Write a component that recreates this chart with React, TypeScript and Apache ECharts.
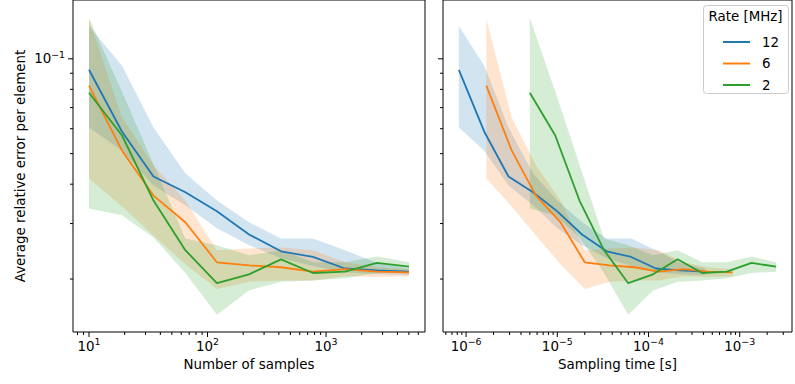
import React, { useEffect, useRef } from "react";
import * as echarts from "echarts";

// ---- data ----
const samples = [10, 19, 35, 65, 120, 224, 417, 776, 1445, 2692, 5012];
const rateNames = ["12", "6", "2"];
const ratesMHz = [12, 6, 2];

const mean12 = [0.0923, 0.0587, 0.0423, 0.0377, 0.0328, 0.0277, 0.0245, 0.0235, 0.0216, 0.0213, 0.0211];
const upper12 = [0.1272, 0.095, 0.0605, 0.0433, 0.0355, 0.0303, 0.0269, 0.0269, 0.0247, 0.0225, 0.0216];
const lower12 = [0.0605, 0.0511, 0.0396, 0.0343, 0.029, 0.0256, 0.0233, 0.022, 0.021, 0.0207, 0.0206];

const mean6 = [0.0822, 0.0511, 0.0368, 0.0303, 0.0226, 0.0221, 0.0218, 0.0211, 0.0215, 0.0211, 0.021];
const upper6 = [0.1338, 0.0651, 0.0459, 0.0355, 0.0247, 0.025, 0.0252, 0.0247, 0.0226, 0.0218, 0.0215];
const lower6 = [0.0417, 0.034, 0.0275, 0.0223, 0.0186, 0.0196, 0.0198, 0.0198, 0.0204, 0.0203, 0.0204];

const mean2 = [0.078, 0.0571, 0.0355, 0.0247, 0.0194, 0.0207, 0.0231, 0.0209, 0.0211, 0.0225, 0.0219];
const upper2 = [0.1348, 0.0786, 0.0462, 0.0269, 0.0256, 0.0238, 0.0247, 0.0226, 0.0226, 0.0236, 0.0226];
const lower2 = [0.0335, 0.0319, 0.0271, 0.0209, 0.0154, 0.0184, 0.0196, 0.0198, 0.0201, 0.0209, 0.0211];

const means = [mean12, mean6, mean2];
const uppers = [upper12, upper6, upper2];
const lowers = [lower12, lower6, lower2];

const FONT = "DejaVu Sans";
const COLORS = ["#1f77b4", "#ff7f0e", "#2ca02c"];
const BAND = ["rgba(31,119,180,0.2)", "rgba(255,127,14,0.2)", "rgba(44,160,44,0.2)"];

const X0_MIN = Math.pow(10, 0.865);
const X0_MAX = Math.pow(10, 3.835);
const X1_MIN = Math.pow(10, -6.253);
const X1_MAX = Math.pow(10, -2.427);
const Y_MIN = Math.pow(10, -1 - 274 / 316);
const Y_MAX = Math.pow(10, -1 + 59 / 316);

function powLabel(v: number) {
  const l = Math.log10(v);
  const r = Math.round(l);
  if (Math.abs(l - r) > 1e-6) return "";
  return `{b|10}{s|${r < 0 ? "\u2212" + -r : r}}`;
}

const richLabel = {
  b: { fontSize: 13.4, fontFamily: FONT, color: "#000", lineHeight: 18 },
  s: { fontSize: 9.4, fontFamily: FONT, color: "#000", verticalAlign: "top", lineHeight: 10 },
};

function logTicks(min: number, max: number) {
  const major: number[] = [];
  const minor: number[] = [];
  for (let e = Math.floor(Math.log10(min)) - 1; e <= Math.ceil(Math.log10(max)); e++) {
    for (let m = 1; m <= 9; m++) {
      const v = m * Math.pow(10, e);
      if (v >= min * 1.0001 && v <= max / 1.0001) (m === 1 ? major : minor).push(v);
    }
  }
  return { major, minor };
}

function tickSeries(g: number, xmin: number, xmax: number) {
  const xt = logTicks(xmin, xmax);
  const yt = logTicks(Y_MIN, Y_MAX);
  return {
    type: "custom",
    xAxisIndex: g,
    yAxisIndex: g,
    silent: true,
    z: 6,
    data: [[xmin, Y_MIN]],
    renderItem: (params: any, api: any) => {
      const children: any[] = [];
      const st = { stroke: "#000", lineWidth: 1 };
      const addX = (v: number, len: number) => {
        const p = api.coord([v, Y_MIN]);
        children.push({ type: "line", shape: { x1: p[0], y1: p[1], x2: p[0], y2: p[1] + len }, style: st });
      };
      const addY = (v: number, len: number) => {
        const p = api.coord([xmin, v]);
        children.push({ type: "line", shape: { x1: p[0], y1: p[1], x2: p[0] - len, y2: p[1] }, style: st });
      };
      xt.major.forEach((v) => addX(v, 5));
      xt.minor.forEach((v) => addX(v, 3));
      yt.major.forEach((v) => addY(v, 5));
      yt.minor.forEach((v) => addY(v, 3));
      return { type: "group", children };
    },
  };
}

function bandSeries(g: number, i: number, xs: number[]) {
  const hi = uppers[i];
  const lo = lowers[i];
  return {
    type: "custom",
    xAxisIndex: g,
    yAxisIndex: g,
    silent: true,
    z: 1,
    data: xs.map((x, k) => [x, means[i][k]]),
    renderItem: (params: any, api: any) => {
      if (params.dataIndex !== 0) return null;
      const pts: number[][] = [];
      for (let k = 0; k < xs.length; k++) pts.push(api.coord([xs[k], hi[k]]));
      for (let k = xs.length - 1; k >= 0; k--) pts.push(api.coord([xs[k], lo[k]]));
      return { type: "polygon", shape: { points: pts }, style: { fill: BAND[i], stroke: "none" } };
    },
  };
}

function lineSeries(g: number, i: number, xs: number[]) {
  return {
    type: "line",
    name: rateNames[i],
    xAxisIndex: g,
    yAxisIndex: g,
    z: 3,
    data: xs.map((x, k) => [x, means[i][k]]),
    showSymbol: false,
    symbol: "none",
    color: COLORS[i],
    lineStyle: { width: 1.8, color: COLORS[i] },
    itemStyle: { color: COLORS[i] },
  };
}

function xAxisCfg(g: number, min: number, max: number, name: string) {
  return {
    type: "log",
    gridIndex: g,
    min,
    max,
    logBase: 10,
    axisLine: { show: false },
    axisTick: { show: false },
    splitLine: { show: false },
    minorTick: { show: false },
    axisLabel: { formatter: powLabel, rich: richLabel, margin: 5, interval: 0, hideOverlap: false },
    name,
    nameLocation: "middle",
    nameGap: 26,
    nameTextStyle: { fontSize: 13.4, fontFamily: FONT, color: "#000" },
  };
}

function yAxisCfg(g: number, showLabel: boolean) {
  return {
    type: "log",
    gridIndex: g,
    min: Y_MIN,
    max: Y_MAX,
    logBase: 10,
    axisLine: { show: false },
    axisTick: { show: false },
    splitLine: { show: false },
    minorTick: { show: false },
    axisLabel: { show: showLabel, formatter: powLabel, rich: richLabel, margin: 8, interval: 0 },
    name: showLabel ? "Average relative error per element" : "",
    nameLocation: "middle",
    nameGap: 46,
    nameTextStyle: { fontSize: 13.4, fontFamily: FONT, color: "#000" },
  };
}

export default function App() {
  const ref = useRef<HTMLDivElement>(null);
  useEffect(() => {
    if (!ref.current) return;
    const chart = echarts.init(ref.current, null, { renderer: "svg" });
    const series: any[] = [];
    for (let i = 0; i < 3; i++) {
      const xs0 = samples.slice();
      const xs1 = samples.map((n) => n / (ratesMHz[i] * 1e6));
      series.push(bandSeries(0, i, xs0));
      series.push(bandSeries(1, i, xs1));
    }
    for (let i = 0; i < 3; i++) {
      const xs0 = samples.slice();
      const xs1 = samples.map((n) => n / (ratesMHz[i] * 1e6));
      series.push(lineSeries(0, i, xs0));
      series.push(lineSeries(1, i, xs1));
    }
    series.push(tickSeries(0, X0_MIN, X0_MAX));
    series.push(tickSeries(1, X1_MIN, X1_MAX));

    const option: any = {
      animation: false,
      backgroundColor: "#ffffff",
      textStyle: { fontFamily: FONT },
      grid: [
        { left: 73, top: -1, width: 352, height: 333, show: true, borderColor: "#000", borderWidth: 1, backgroundColor: "transparent" },
        { left: 443, top: -1, width: 352, height: 333, show: true, borderColor: "#000", borderWidth: 1, backgroundColor: "transparent" },
      ],
      xAxis: [
        xAxisCfg(0, X0_MIN, X0_MAX, "Number of samples"),
        xAxisCfg(1, X1_MIN, X1_MAX, "Sampling time [s]"),
      ],
      yAxis: [yAxisCfg(0, true), yAxisCfg(1, false)],
      legend: {
        data: rateNames,
        orient: "vertical",
        left: 718,
        top: 29,
        itemWidth: 27,
        itemHeight: 2,
        icon: "rect",
        itemGap: 5.5,
        selectedMode: false,
        z: 100,
        textStyle: { fontSize: 13.4, fontFamily: FONT, color: "#000", lineHeight: 16, padding: [0, 0, 0, 7] },
      },
      graphic: [
        {
          type: "rect",
          z: 90,
          shape: { x: 703.5, y: 5.5, width: 85, height: 88, r: 3 },
          style: { fill: "rgba(255,255,255,0.8)", stroke: "#cccccc", lineWidth: 1 },
        },
        {
          type: "text",
          z: 95,
          style: {
            text: "Rate [MHz]",
            x: 745.5,
            y: 16,
            fontSize: 13.4,
            fontFamily: FONT,
            fill: "#000",
            align: "center",
            verticalAlign: "middle",
            textAlign: "center",
            textVerticalAlign: "middle",
          },
        },
      ],
      series,
    };
    chart.setOption(option);
    return () => chart.dispose();
  }, []);
  return <div ref={ref} style={{ position: "fixed", left: 0, top: 0, width: 795, height: 384 }} />;
}
